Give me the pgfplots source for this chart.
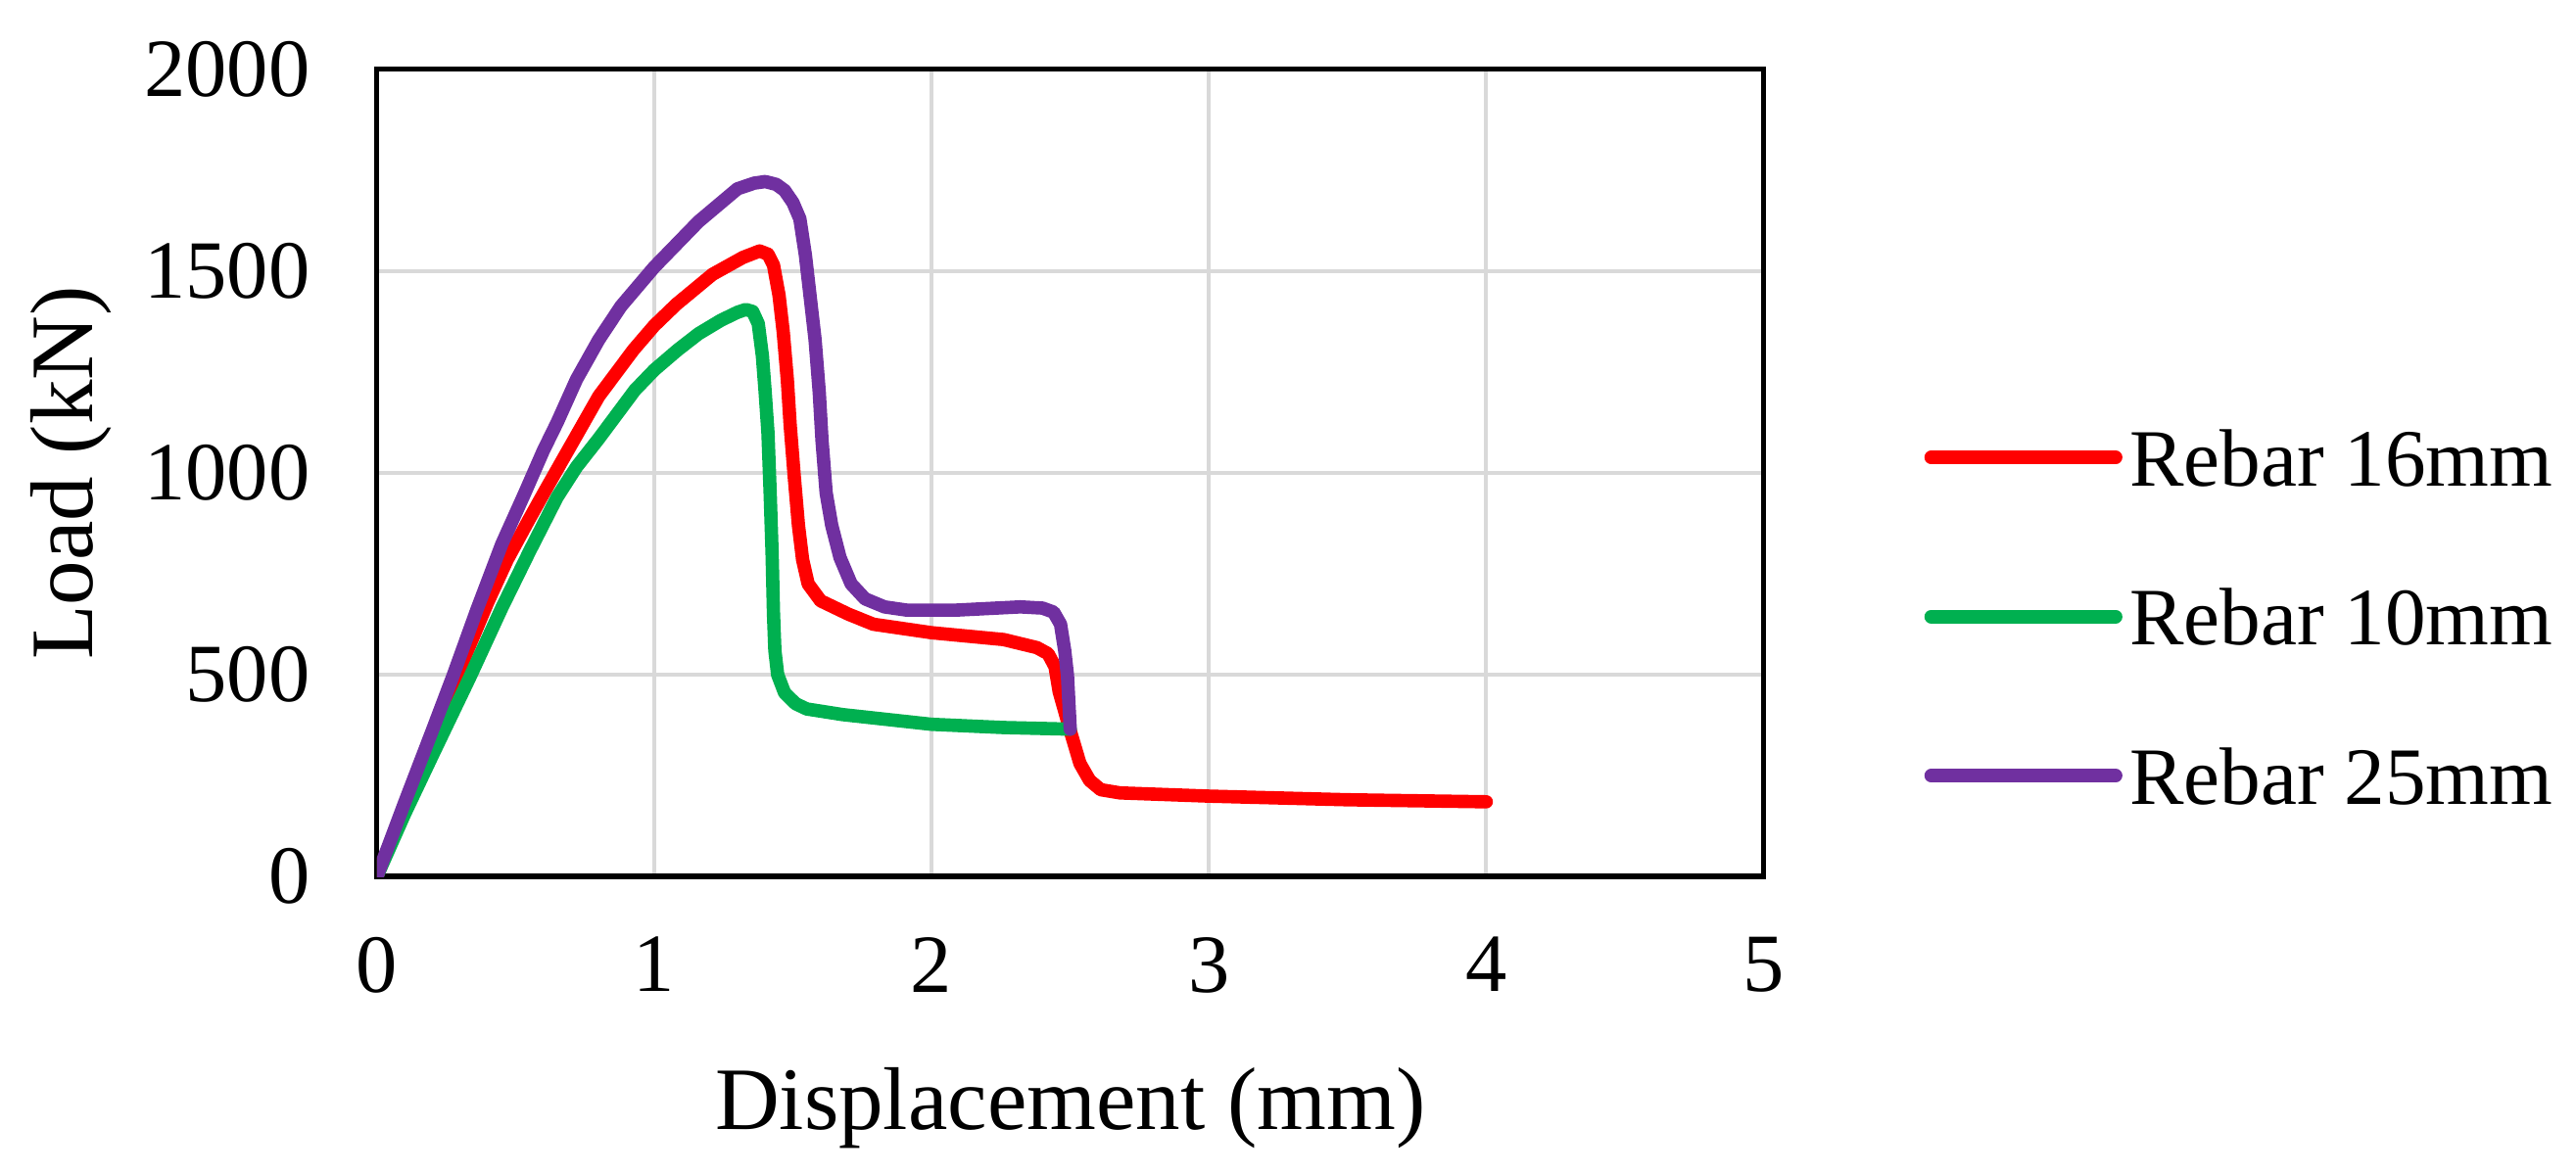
\documentclass[border=0pt]{standalone}
\usepackage{fontspec}
\setmainfont{Liberation Serif}
\usepackage{pgfplots}
\pgfplotsset{compat=1.18}
\definecolor{cred}{HTML}{FF0000}
\definecolor{cgreen}{HTML}{00B050}
\definecolor{cpurple}{HTML}{7030A0}
\definecolor{cgrid}{HTML}{D9D9D9}
\begin{document}
\begin{tikzpicture}
\useasboundingbox (-59.2pt,-46.9pt) rectangle (345.4pt,137.7pt);
\begin{axis}[
 scale only axis, width=217.8pt, height=126.8pt,
 xmin=0,xmax=5,ymin=0,ymax=2000,
 xtick={0,1,2,3,4,5}, ytick={0,500,1000,1500,2000},
 grid=major, major grid style={cgrid, line width=0.6pt},
 axis line style={black, line width=0.8pt},
 major tick length=0pt,
 /pgf/number format/assume math mode=true,
 /pgf/number format/set thousands separator={},
 scaled y ticks=false,
 ticklabel style={font=\fontsize{13}{15}\selectfont},
 yticklabel style={xshift=-7pt},
 xticklabel style={yshift=-6pt},
 xlabel={Displacement (mm)}, ylabel={Load (kN)},
 label style={font=\fontsize{14}{16}\selectfont},
 xlabel style={at={(axis description cs:0.5,-0.3131)}, anchor=base},
 ylabel style={at={(axis description cs:-0.2204,0.5)}, anchor=center},
 legend style={draw=none, fill=none, inner sep=0pt, outer sep=0pt,
   at={(axis description cs:1.116,0.322)}, anchor=west,
   font=\fontsize{12.8}{15}\selectfont, row sep=13.8pt,
   nodes={inner sep=1.1pt, text height=9pt, text depth=0pt}},
 legend cell align=left,
 legend image code/.code={\draw[#1, line width=2.1pt, line cap=round] (0pt,0pt) -- (29pt,0pt);},
 every axis plot/.append style={line width=2.1pt, line join=round, line cap=round},
]
\addplot[cred] coordinates {
(0,0)(0.1,172)(0.2,343)(0.29,500)(0.4,680)(0.47,785)(0.545,880)(0.6,948)(0.68,1045)(0.8,1190)(0.925,1305)(1.0,1365)(1.08,1418)(1.21,1492)(1.32,1534)(1.38,1550)(1.41,1542)(1.43,1515)(1.45,1440)(1.465,1350)(1.48,1230)(1.49,1120)(1.505,990)(1.52,870)(1.535,785)(1.555,725)(1.6,683)(1.7,650)(1.79,625)(2.0,604)(2.26,587)(2.38,567)(2.42,552)(2.445,520)(2.46,458)(2.5,361)(2.535,280)(2.57,238)(2.61,215)(2.68,207)(3.0,199)(3.5,190)(4.0,185)
};
\addlegendentry{Rebar 16mm}
\addplot[cgreen] coordinates {
(0,0)(0.1,155)(0.2,300)(0.334,492)(0.45,665)(0.55,805)(0.65,940)(0.72,1015)(0.8,1085)(0.93,1205)(1.0,1255)(1.085,1305)(1.16,1345)(1.24,1378)(1.3,1398)(1.33,1405)(1.355,1400)(1.375,1370)(1.39,1290)(1.40,1200)(1.41,1100)(1.418,950)(1.425,800)(1.43,650)(1.435,560)(1.445,500)(1.47,455)(1.51,428)(1.55,415)(1.68,401)(2.0,377)(2.26,369)(2.5,365)
};
\addlegendentry{Rebar 10mm}
\addplot[cpurple] coordinates {
(0,0)(0.1,183)(0.2,362)(0.275,498)(0.36,660)(0.45,823)(0.53,945)(0.6,1055)(0.65,1125)(0.72,1232)(0.8,1330)(0.88,1413)(1.0,1510)(1.16,1623)(1.30,1704)(1.36,1718)(1.40,1722)(1.44,1715)(1.47,1700)(1.50,1670)(1.525,1630)(1.545,1540)(1.56,1450)(1.58,1330)(1.595,1200)(1.605,1080)(1.62,950)(1.64,870)(1.67,790)(1.71,725)(1.76,688)(1.83,668)(1.91,660)(2.09,660)(2.32,668)(2.40,665)(2.44,655)(2.465,625)(2.48,560)(2.49,498)(2.5,365)
};
\addlegendentry{Rebar 25mm}
\end{axis}
\end{tikzpicture}
\end{document}
